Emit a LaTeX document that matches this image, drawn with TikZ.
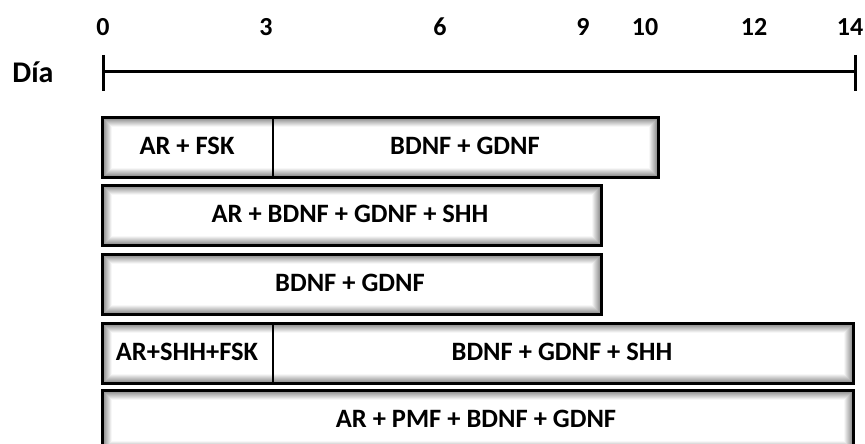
\documentclass[tikz,border=0pt]{standalone}
\usepackage{fontspec}
\setmainfont{Carlito}
\tikzset{
  glowbox/.style={draw, line width=2.6pt, fill=white, anchor=north west, inner sep=0pt,
    minimum height=60pt,
    path picture={
      \foreach \k [evaluate=\k as \g using 50-5.2*\k] in {1,...,9}
        \draw[line width=1.1pt, black!\g]
          ([shift={(\k pt,-\k pt)}]path picture bounding box.north west)
          rectangle ([shift={(-\k pt,\k pt)}]path picture bounding box.south east);
    }},
  boxlbl/.style={font=\fontsize{26.5}{30}\selectfont\bfseries, inner sep=0pt},
  numlbl/.style={font=\fontsize{26}{30}\selectfont\bfseries, inner sep=0pt},
  divline/.style={line width=1.6pt},
  axisline/.style={line width=3pt}
}
\begin{document}
\begin{tikzpicture}[x=1pt,y=-1pt]
\useasboundingbox (0,0) rectangle (865,444);
\clip (0,0) rectangle (865,444);
% time axis
\node[font=\fontsize{30}{34}\selectfont\bfseries, inner sep=0pt] (dia) at (33,72) {Día};
\coordinate (a0) at (103,72);
\coordinate (a14) at (855,72);
\draw[axisline] (a0) -- (a14);
\draw[axisline] ([yshift=17pt]a0) -- ([yshift=-19pt]a0);
\draw[axisline] ([yshift=17pt]a14) -- ([yshift=-19pt]a14);
\foreach \n/\x in {0/103,3/266,6/440,9/583,10/645,12/754,14/850}
  \node[numlbl] (n\n) at (\x,27) {\n};
% treatment rows
\node[glowbox, minimum width=556pt] (r1) at (101,116) {};
\node[glowbox, minimum width=499pt] (r2) at (101,184) {};
\node[glowbox, minimum width=499pt] (r3) at (101,253) {};
\node[glowbox, minimum width=751pt] (r4) at (101,322) {};
\node[glowbox, minimum width=751pt] (r5) at (101,389) {};
\coordinate (d1) at (273,0);
\draw[divline] (r1.north -| d1) -- (r1.south -| d1);
\draw[divline] (r4.north -| d1) -- (r4.south -| d1);
\node[boxlbl] (t1a) at (187,146) {AR + FSK};
\node[boxlbl] (t1b) at (465,146) {BDNF + GDNF};
\node[boxlbl] (t2) at (350,214) {AR + BDNF + GDNF + SHH};
\node[boxlbl] (t3) at (350,283) {BDNF + GDNF};
\node[boxlbl] (t4a) at (187,352) {AR+SHH+FSK};
\node[boxlbl] (t4b) at (562,352) {BDNF + GDNF + SHH};
\node[boxlbl] (t5) at (476,419) {AR + PMF + BDNF + GDNF};
\end{tikzpicture}
\end{document}
